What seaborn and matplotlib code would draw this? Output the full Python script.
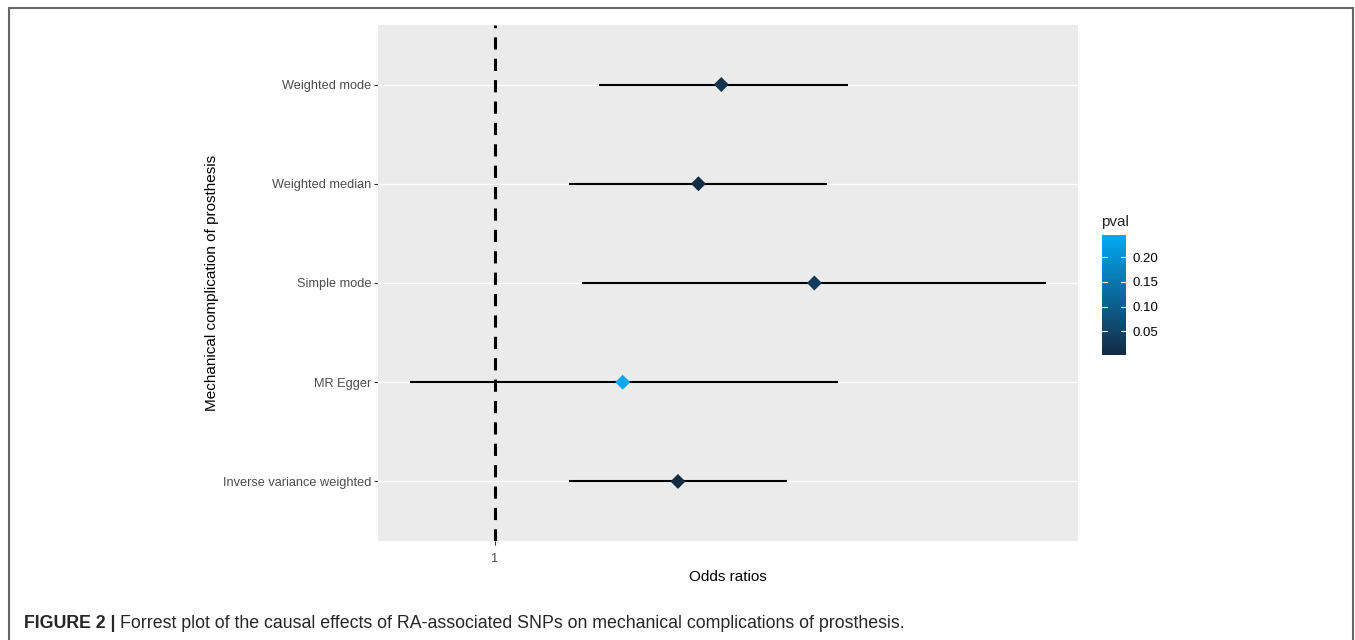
import numpy as np
import pandas as pd
import matplotlib
matplotlib.use("Agg")
import matplotlib.pyplot as plt
import seaborn as sns
from matplotlib.colors import LinearSegmentedColormap, Normalize
from matplotlib.lines import Line2D

# Forest plot data (odds ratios on a log scale)
methods = ["Inverse variance weighted", "MR Egger", "Simple mode",
           "Weighted median", "Weighted mode"]
or_est = [1.44, 1.29, 1.89, 1.50, 1.57]
or_low = [1.16, 0.844, 1.19, 1.16, 1.23]
or_high = [1.79, 1.98, 3.00, 1.94, 2.02]
pval = [0.002, 0.245, 0.035, 0.008, 0.02]

df = pd.DataFrame({"method": methods, "or": or_est, "lo": or_low,
                   "hi": or_high, "pval": pval})
df["ypos"] = np.arange(len(df))

sns.set_theme(style="darkgrid")
plt.rcParams["font.family"] = ["Liberation Sans", "DejaVu Sans"]

fig = plt.figure(figsize=(13.55, 6.4), dpi=100)
ax = fig.add_axes([0.279, 0.1547, 0.5166, 0.8063])
ax.set_facecolor("#EBEBEB")

cmap = LinearSegmentedColormap.from_list("pv", ["#132B43", "#03A9F4"])
norm = Normalize(df["pval"].min(), df["pval"].max())

ax.set_xscale("log")
ax.axvline(1, color="black", lw=2.2, ls=(0, (4, 3)), zorder=2)
ax.hlines(df["ypos"], df["lo"], df["hi"], color="black", lw=1.5, zorder=3)
sns.scatterplot(data=df, x="or", y="ypos", hue="pval", palette=cmap,
                hue_norm=norm, marker="D", s=58, edgecolor="none",
                legend=False, zorder=4, ax=ax)

# axis limits like ggplot expansion
L, H = np.log10(df["lo"].min()), np.log10(df["hi"].max())
pad = 0.05 * (H - L)
ax.set_xlim(10 ** (L - pad), 10 ** (H + pad))
ax.set_ylim(-0.6, len(df) - 0.4)

ax.set_yticks(df["ypos"])
ax.set_yticklabels(df["method"])
ax.set_xticks([1])
ax.set_xticklabels(["1"])
ax.xaxis.set_minor_locator(matplotlib.ticker.NullLocator())

ax.grid(False)
for y in df["ypos"]:
    ax.axhline(y, color="white", lw=1.0, zorder=1)
for s in ax.spines.values():
    s.set_visible(False)

ax.tick_params(axis="both", which="major", length=3, width=0.8,
               color="#333333", labelcolor="#4D4D4D", labelsize=9.2, pad=2)
ax.tick_params(axis="x", bottom=True, pad=6)
ax.tick_params(axis="y", left=True)
ax.set_xlabel("Odds ratios", fontsize=11, color="black", labelpad=3)
ax.set_ylabel("Mechanical complication of prosthesis", fontsize=11,
              color="black", labelpad=3)

# colour bar legend
cax = fig.add_axes([1102 / 1355, 1 - 355 / 640, 24 / 1355, 120 / 640])
sm = plt.cm.ScalarMappable(cmap=cmap, norm=norm)
cb = fig.colorbar(sm, cax=cax, ticks=[0.05, 0.10, 0.15, 0.20])
cb.outline.set_visible(False)
cb.ax.set_yticklabels(["0.05", "0.10", "0.15", "0.20"])
cb.ax.tick_params(length=0, labelsize=9.5, labelcolor="black", pad=5)
for t in [0.05, 0.10, 0.15, 0.20]:
    cb.ax.plot([0, 0.2], [t, t], color="white", lw=0.8, transform=cb.ax.get_yaxis_transform())
    cb.ax.plot([0.8, 1], [t, t], color="white", lw=0.8, transform=cb.ax.get_yaxis_transform())
fig.text(1101 / 1355, 1 - 222 / 640, "pval", fontsize=11, ha="left", va="center")

# frame around the figure (open at the bottom)
W, Hh = 1355, 640
frame = [([9, 9], [0, 632]), ([9, 1353], [632, 632]), ([1353, 1353], [632, 0])]
for xs, ys in frame:
    fig.add_artist(Line2D([x / W for x in xs], [y / Hh for y in ys],
                          color="#666666", lw=1.5))

# caption
cap_font = ["Liberation Sans Narrow", "Liberation Sans", "DejaVu Sans"]
t1 = fig.text(24 / W, 1 - 624 / Hh, "FIGURE 2 |", fontsize=12.8,
              fontweight="bold", family=cap_font, va="center", ha="left")
fig.canvas.draw()
bb = t1.get_window_extent(fig.canvas.get_renderer())
fig.text((bb.x1 + 5) / W, 1 - 624 / Hh,
         "Forrest plot of the causal effects of RA-associated SNPs on "
         "mechanical complications of prosthesis.",
         fontsize=12.8, family=cap_font, va="center", ha="left")

fig.savefig("out.png", dpi=100)
